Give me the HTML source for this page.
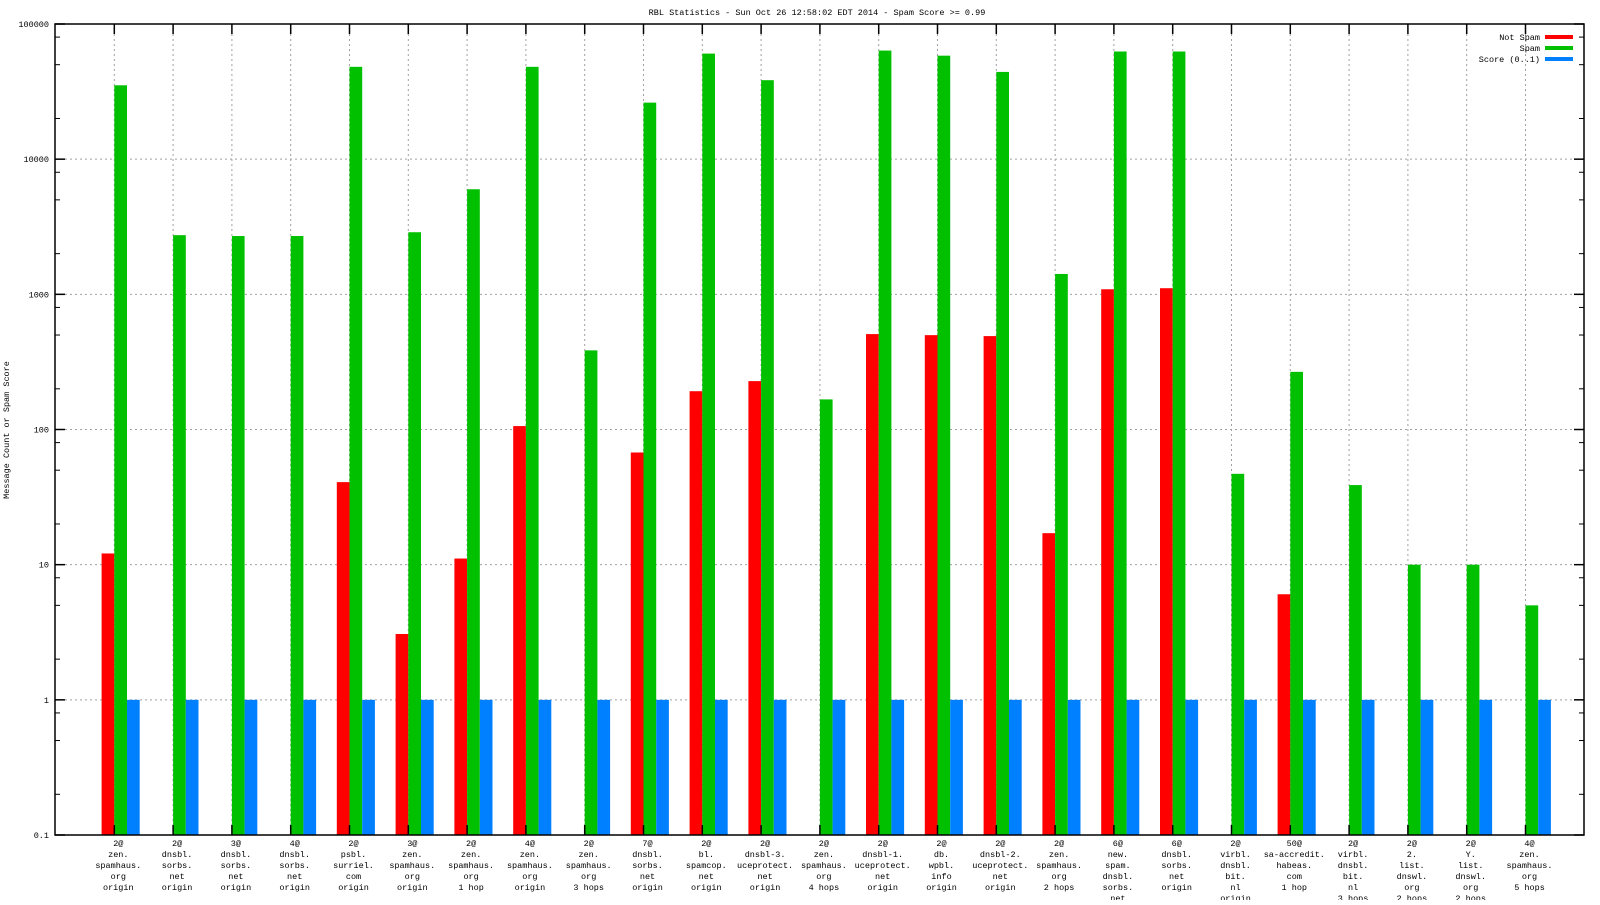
<!DOCTYPE html>
<html><head><meta charset="utf-8"><style>
html,body{margin:0;padding:0;background:#fff;}
svg text{font-family:"Liberation Mono",monospace;font-size:8.5px;fill:#000;}
</style></head><body>
<svg id="chart" width="1600" height="900" xmlns="http://www.w3.org/2000/svg">
<text x="817" y="15" text-anchor="middle">RBL Statistics - Sun Oct 26 12:58:02 EDT 2014 - Spam Score &gt;= 0.99</text>
<text transform="translate(9,430) rotate(-90)" text-anchor="middle">Message Count or Spam Score</text>
<g id="grid"></g><g id="bars"></g><g id="axes"></g><g id="labels"></g>
<g>
<text x="1540" y="40" text-anchor="end">Not Spam</text>
<rect x="1545" y="35" width="28" height="4" fill="#ff0000"/>
<text x="1540" y="51" text-anchor="end">Spam</text>
<rect x="1545" y="46" width="28" height="4" fill="#00c000"/>
<text x="1540" y="62" text-anchor="end">Score (0..1)</text>
<rect x="1545" y="57" width="28" height="4" fill="#0080ff"/>
</g>
</svg>
<script>
const categories = [
 "2@|zen.|spamhaus.|org|origin","2@|dnsbl.|sorbs.|net|origin","3@|dnsbl.|sorbs.|net|origin","4@|dnsbl.|sorbs.|net|origin",
 "2@|psbl.|surriel.|com|origin","3@|zen.|spamhaus.|org|origin","2@|zen.|spamhaus.|org|1 hop","4@|zen.|spamhaus.|org|origin",
 "2@|zen.|spamhaus.|org|3 hops","7@|dnsbl.|sorbs.|net|origin","2@|bl.|spamcop.|net|origin","2@|dnsbl-3.|uceprotect.|net|origin",
 "2@|zen.|spamhaus.|org|4 hops","2@|dnsbl-1.|uceprotect.|net|origin","2@|db.|wpbl.|info|origin","2@|dnsbl-2.|uceprotect.|net|origin",
 "2@|zen.|spamhaus.|org|2 hops","6@|new.|spam.|dnsbl.|sorbs.|net|origin","6@|dnsbl.|sorbs.|net|origin","2@|virbl.|dnsbl.|bit.|nl|origin",
 "50@|sa-accredit.|habeas.|com|1 hop","2@|virbl.|dnsbl.|bit.|nl|3 hops","2@|2.|list.|dnswl.|org|2 hops","2@|Y.|list.|dnswl.|org|2 hops",
 "4@|zen.|spamhaus.|org|5 hops"];
const notSpam = [12.1,0,0,0,40.8,3.07,11.1,106,0,67.6,192,228,0,508,499,491,17.1,1090,1110,0,6.04,0,0,0,0];
const spam = [35200,2740,2700,2700,48200,2880,5990,48200,385,26200,60400,38400,167,63600,58300,44200,1415,62600,62600,47,267,38.8,10,10,5];
const score = [1,1,1,1,1,1,1,1,1,1,1,1,1,1,1,1,1,1,1,1,1,1,1,1,1];
const yTicks = [0.1,1,10,100,1000,10000,100000];
const yTickLabels = ["0.1","1","10","100","1000","10000","100000"];

const NS="http://www.w3.org/2000/svg";
const L=55,R=1584,T=24,B=835;
const yLog=(v)=>T+(5-Math.log10(v))*((B-T)/6);
const xC=(i)=>114.3+i*58.8;
const BW=12.7;
function mk(tag,parent,attrs){const e=document.createElementNS(NS,tag);for(const k in attrs)e.setAttribute(k,attrs[k]);document.getElementById(parent).appendChild(e);return e;}
// grid
yTicks.forEach((v,k)=>{
  if(k===0||k===yTicks.length-1)return;
  const g=mk('line','grid',{x1:L+10,x2:R-10,y1:yLog(v),y2:yLog(v),stroke:'#a0a0a0','stroke-dasharray':'2,3'});
  
  
});
categories.forEach((c,i)=>{
  const g=mk('line','grid',{x1:xC(i),x2:xC(i),y1:T+10,y2:B-10,stroke:'#a0a0a0','stroke-dasharray':'2,3'});
  
  
});
// bars
const series=[[notSpam,'#ff0000',-1,'not-spam'],[spam,'#00c000',0,'spam'],[score,'#0080ff',1,'score']];
series.forEach(([arr,col,off,nm])=>{
  arr.forEach((v,i)=>{
    if(!(v>0.1))return;
    const y=yLog(v);
    const r=mk('rect','bars',{x:xC(i)+off*BW,y:y,width:BW,height:B-y,fill:col});
    
    
  });
});
// axes
const fr=mk('rect','axes',{x:L,y:T,width:R-L,height:B-T,fill:'none',stroke:'#000','stroke-width':1.5});


yTicks.forEach((v,k)=>{
  const y=yLog(v);
  mk('line','axes',{x1:L,x2:L+10,y1:y,y2:y,stroke:'#000','stroke-width':1.5});
  mk('line','axes',{x1:R,x2:R-10,y1:y,y2:y,stroke:'#000','stroke-width':1.5});
  const t=mk('text','axes',{x:L-6,y:y+3,'text-anchor':'end'});
  t.textContent=yTickLabels[k];
  
  
  if(k<yTicks.length-1){[2,5,8].forEach(m=>{const yy=yLog(v*m);
    mk('line','axes',{x1:L,x2:L+5,y1:yy,y2:yy,stroke:'#000'});
    mk('line','axes',{x1:R,x2:R-5,y1:yy,y2:yy,stroke:'#000'});});}
});
categories.forEach((c,i)=>{
  const x=xC(i);
  mk('line','axes',{x1:x,x2:x,y1:T,y2:T+10,stroke:'#000','stroke-width':1.5});
  mk('line','axes',{x1:x,x2:x,y1:B,y2:B-10,stroke:'#000','stroke-width':1.5});
  const t=mk('text','labels',{x:x+4,y:846,'text-anchor':'middle'});
  
  
  c.split('|').forEach((ln,j)=>{const s=document.createElementNS(NS,'tspan');s.setAttribute('x',x+4);s.setAttribute('dy',j?11:0);s.textContent=ln;t.appendChild(s);});
});
</script>
</body></html>
